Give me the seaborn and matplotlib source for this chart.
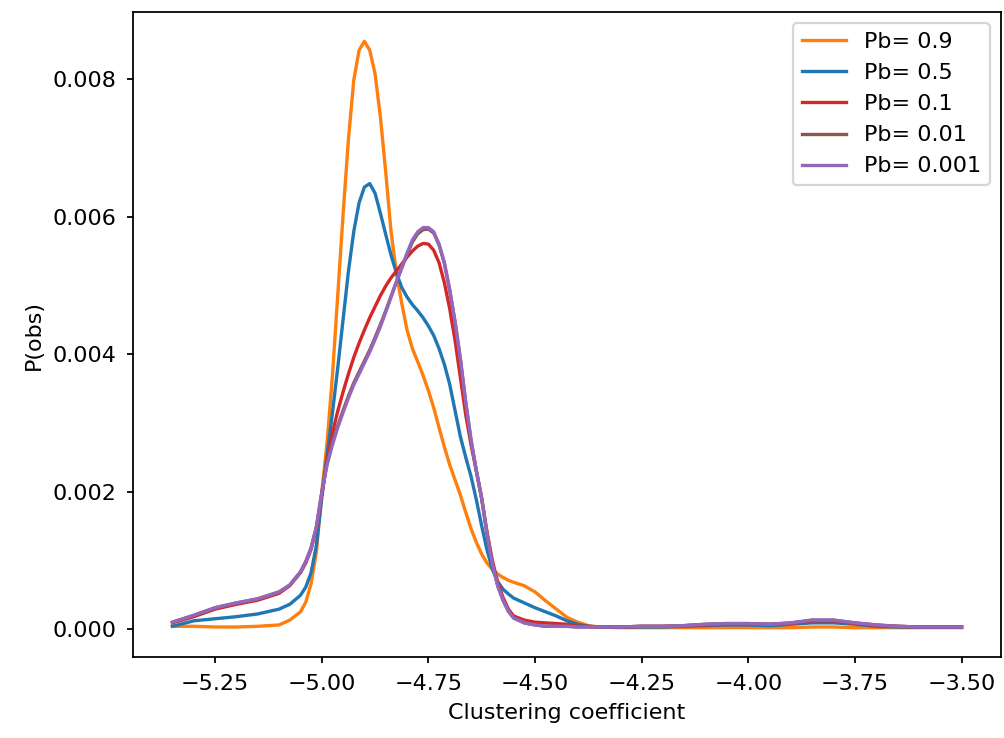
import matplotlib
matplotlib.use("Agg")
import matplotlib.pyplot as plt
import pandas as pd
import seaborn as sns

# Clustering coefficient grid (finer spacing through the main peak)
clustering = [
    -5.35, -5.30, -5.25, -5.20, -5.15, -5.10, -5.075,
    -5.05, -5.0375, -5.025, -5.0125, -5.00, -4.9875, -4.975, -4.9625,
    -4.95, -4.9375, -4.925, -4.9125, -4.90, -4.8875, -4.875, -4.8625,
    -4.85, -4.8375, -4.825, -4.8125, -4.80, -4.7875, -4.775, -4.7625,
    -4.75, -4.7375, -4.725, -4.7125, -4.70, -4.6875, -4.675, -4.6625,
    -4.65, -4.6375, -4.625, -4.6125, -4.60, -4.5875, -4.575, -4.5625, -4.55,
    -4.525, -4.50, -4.475, -4.45, -4.425, -4.40, -4.375, -4.35,
    -4.30, -4.25, -4.20, -4.15, -4.10, -4.05, -4.00, -3.95, -3.90,
    -3.85, -3.80, -3.75, -3.70, -3.65, -3.60, -3.55, -3.50,
]

# Densities P(obs), listed in units of 1e-3
p_09 = [
    0.04, 0.04, 0.03, 0.03, 0.04, 0.06, 0.13,
    0.25, 0.39, 0.66, 1.12, 1.99, 2.71, 3.68, 4.85, 6.03, 7.12,
    7.98, 8.42, 8.55, 8.42, 8.08, 7.45, 6.65, 5.78, 5.18, 4.74,
    4.35, 4.08, 3.89, 3.69, 3.47, 3.22, 2.93, 2.65, 2.39, 2.17,
    1.95, 1.70, 1.46, 1.26, 1.09, 0.96, 0.87, 0.80, 0.75, 0.71, 0.68,
    0.63, 0.54, 0.41, 0.29, 0.17, 0.10, 0.05, 0.03,
    0.02, 0.02, 0.02, 0.02, 0.02, 0.02, 0.02, 0.02, 0.02,
    0.03, 0.03, 0.02, 0.02, 0.02, 0.02, 0.02, 0.02,
]
p_05 = [
    0.04, 0.12, 0.15, 0.18, 0.22, 0.29, 0.36,
    0.49, 0.61, 0.82, 1.22, 1.90, 2.53, 3.14, 3.80, 4.50, 5.20,
    5.78, 6.20, 6.43, 6.48, 6.34, 6.05, 5.74, 5.44, 5.18, 4.97,
    4.83, 4.72, 4.63, 4.53, 4.41, 4.27, 4.08, 3.85, 3.56, 3.18,
    2.80, 2.50, 2.22, 1.88, 1.50, 1.15, 0.87, 0.69, 0.58, 0.51, 0.45,
    0.38, 0.31, 0.25, 0.19, 0.12, 0.07, 0.04, 0.03,
    0.03, 0.03, 0.03, 0.04, 0.05, 0.06, 0.06, 0.05, 0.07,
    0.09, 0.09, 0.07, 0.04, 0.03, 0.03, 0.03, 0.03,
]
p_01 = [
    0.09, 0.18, 0.29, 0.36, 0.42, 0.52, 0.63,
    0.82, 0.96, 1.16, 1.46, 1.95, 2.45, 2.85, 3.17, 3.45, 3.71,
    3.95, 4.16, 4.35, 4.53, 4.69, 4.85, 4.99, 5.11, 5.21, 5.31,
    5.41, 5.50, 5.57, 5.61, 5.60, 5.51, 5.33, 5.04, 4.66, 4.20,
    3.66, 3.12, 2.68, 2.30, 1.90, 1.41, 1.00, 0.68, 0.46, 0.29, 0.19,
    0.13, 0.10, 0.09, 0.08, 0.07, 0.04, 0.04, 0.03,
    0.03, 0.04, 0.04, 0.05, 0.06, 0.07, 0.07, 0.07, 0.08,
    0.12, 0.12, 0.08, 0.05, 0.04, 0.03, 0.03, 0.03,
]
p_001 = [
    0.10, 0.20, 0.31, 0.38, 0.44, 0.54, 0.64,
    0.83, 0.98, 1.18, 1.49, 1.98, 2.41, 2.71, 2.96, 3.18, 3.39,
    3.58, 3.74, 3.90, 4.06, 4.24, 4.43, 4.63, 4.84, 5.05, 5.25,
    5.45, 5.63, 5.75, 5.81, 5.82, 5.76, 5.59, 5.32, 4.93, 4.47,
    3.93, 3.30, 2.75, 2.30, 1.90, 1.38, 0.95, 0.63, 0.42, 0.26, 0.16,
    0.09, 0.06, 0.04, 0.04, 0.04, 0.03, 0.03, 0.03,
    0.03, 0.04, 0.04, 0.05, 0.07, 0.08, 0.08, 0.07, 0.09,
    0.13, 0.13, 0.09, 0.06, 0.04, 0.03, 0.03, 0.03,
]
p_0001 = [
    0.10, 0.20, 0.31, 0.38, 0.44, 0.54, 0.64,
    0.83, 0.98, 1.18, 1.49, 1.98, 2.39, 2.68, 2.93, 3.15, 3.36,
    3.55, 3.71, 3.87, 4.03, 4.21, 4.40, 4.61, 4.83, 5.05, 5.26,
    5.47, 5.66, 5.78, 5.84, 5.84, 5.78, 5.60, 5.33, 4.93, 4.47,
    3.93, 3.30, 2.75, 2.30, 1.90, 1.38, 0.95, 0.63, 0.42, 0.26, 0.16,
    0.09, 0.06, 0.04, 0.04, 0.04, 0.03, 0.03, 0.03,
    0.03, 0.04, 0.04, 0.05, 0.07, 0.08, 0.08, 0.07, 0.09,
    0.13, 0.13, 0.09, 0.06, 0.04, 0.03, 0.03, 0.03,
]

labels = ["Pb= 0.9", "Pb= 0.5", "Pb= 0.1", "Pb= 0.01", "Pb= 0.001"]
series = [p_09, p_05, p_01, p_001, p_0001]
colors = ["#ff7f0e", "#1f77b4", "#d62728", "#8c564b", "#9467bd"]

frames = []
for lab, vals in zip(labels, series):
    frames.append(pd.DataFrame({
        "coef": clustering,
        "p": [v * 1e-3 for v in vals],
        "Pb": lab,
    }))
df = pd.concat(frames, ignore_index=True)

plt.rcParams.update({
    "font.size": 10,
    "xtick.major.size": 2.8,
    "ytick.major.size": 2.8,
    "xtick.major.pad": 4.7,
    "ytick.major.pad": 4.7,
})

fig = plt.figure(figsize=(1004 / 160, 738 / 160), dpi=160)
ax = fig.add_axes([133 / 1004, 1 - 657 / 738, (1001 - 133) / 1004, (657 - 12) / 738])

sns.lineplot(
    data=df, x="coef", y="p", hue="Pb", hue_order=labels,
    palette=dict(zip(labels, colors)), estimator=None, sort=False,
    linewidth=1.5, ax=ax,
)

handles, labs = ax.get_legend_handles_labels()
ax.legend(handles, labs, loc="upper right")
ax.set_xlabel("Clustering coefficient")
ax.set_ylabel("P(obs)")

fig.savefig("out.png", dpi=160)
